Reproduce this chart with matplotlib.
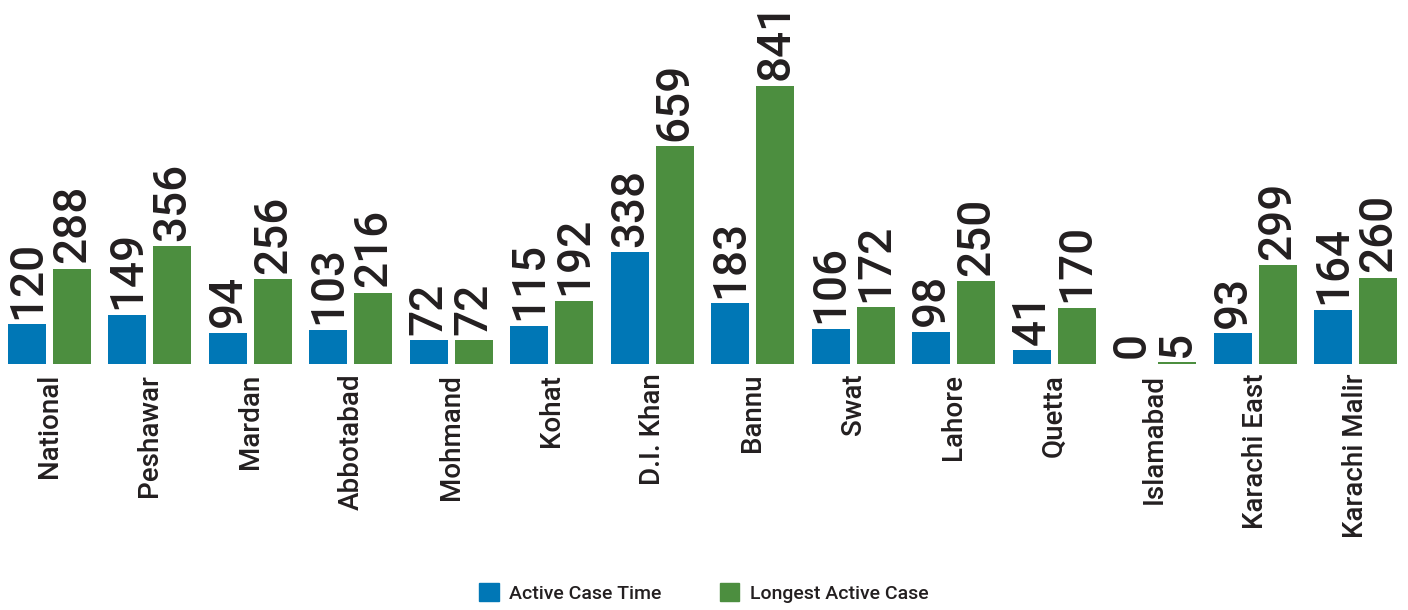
import numpy as np
import matplotlib
matplotlib.use("Agg")
import matplotlib.pyplot as plt
from matplotlib.patches import Patch

plt.rcParams['font.family'] = ['Roboto', 'DejaVu Sans']

cities = ["National", "Peshawar", "Mardan", "Abbotabad", "Mohmand", "Kohat",
          "D.I. Khan", "Bannu", "Swat", "Lahore", "Quetta", "Islamabad",
          "Karachi East", "Karachi Malir"]
active_time = [120, 149, 94, 103, 72, 115, 338, 183, 106, 98, 41, 0, 93, 164]
longest_case = [288, 356, 256, 216, 72, 192, 659, 841, 172, 250, 170, 5, 299, 260]

BLUE = "#0077b6"
GREEN = "#4c8e3f"
TEXT = "#231f20"

fig = plt.figure(figsize=(14.08, 6.10), dpi=100)
ax = fig.add_axes([8 / 1408, (610 - 364) / 610, 1389 / 1408, 364 / 610])

x = np.arange(len(cities))
off = 0.224
w = 0.378
b1 = ax.bar(x - off, active_time, w, color=BLUE)
b2 = ax.bar(x + off, longest_case, w, color=GREEN)

for bars, vals in ((b1, active_time), (b2, longest_case)):
    for rect, v in zip(bars, vals):
        ax.annotate(str(v), (rect.get_x() + rect.get_width() / 2, rect.get_height()),
                    xytext=(0, 4), textcoords="offset points", rotation=90,
                    ha="center", va="bottom", fontsize=33, fontweight="medium", color=TEXT)

ax.set_xlim(-0.413, 13.413)
ax.set_ylim(0, 1101)
ax.set_xticks(x)
ax.set_xticklabels(cities, rotation=90, fontsize=20, fontweight="medium", color=TEXT)
ax.tick_params(axis="x", length=0, pad=7)
ax.set_yticks([])
for s in ax.spines.values():
    s.set_visible(False)

handles = [Patch(color=BLUE, label="Active Case Time"),
           Patch(color=GREEN, label="Longest Active Case")]
leg = fig.legend(handles=handles, loc="center", bbox_to_anchor=(0.5, 17 / 610), ncol=2,
                 frameon=False, handlelength=1.0, handleheight=1.0, handletextpad=0.55,
                 columnspacing=3.0, prop={"size": 14, "weight": "medium"})
for t in leg.get_texts():
    t.set_color(TEXT)

fig.savefig("out.png", dpi=100)
